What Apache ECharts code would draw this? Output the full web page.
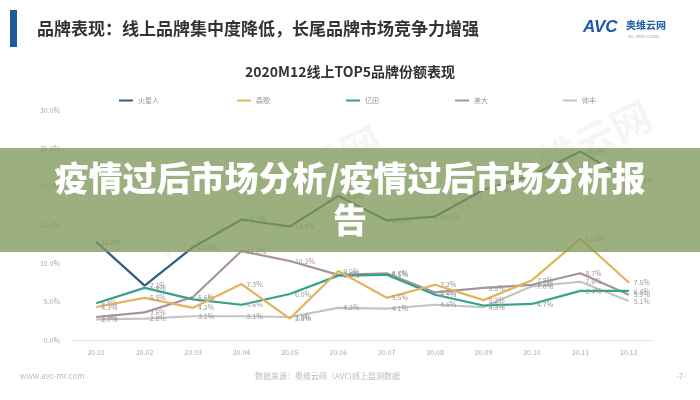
<!DOCTYPE html>
<html><head><meta charset="utf-8">
<script src="https://cdn.jsdelivr.net/npm/echarts@6/dist/echarts.min.js"></script>
<style>html,body{margin:0;padding:0;background:#fff}#c{width:700px;height:400px}</style>
</head><body><div id="c"></div>
<script>
var months = ['20.01','20.02','20.03','20.04','20.05','20.06','20.07','20.08','20.09','20.10','20.11','20.12'];
var seriesNames = ['火星人','森歌','亿田','美大','帅丰'];
var huoxingren = [12.8, 7.1, 12.1, 15.7, 14.8, 18.8, 15.6, 16.1, 19.6, 21.5, 24.6, 20.8];
var senge      = [4.3, 5.5, 4.2, 7.3, 2.8, 9.0, 5.5, 7.2, 5.2, 7.8, 13.2, 7.5];
var yitian     = [4.8, 6.8, 5.3, 4.6, 6.0, 8.4, 8.5, 5.9, 4.5, 4.7, 6.4, 6.4];
var meida      = [3.0, 3.6, 5.6, 11.6, 10.3, 8.5, 8.7, 6.2, 6.8, 7.2, 8.7, 5.9];
var shuaifeng  = [2.7, 2.8, 3.1, 3.1, 3.0, 4.2, 4.1, 4.6, 4.3, 7.0, 7.6, 5.1];
var yTicks = [0, 5, 10, 15, 20, 25, 30];

var colors = ['#2f5d7c','#e2b35c','#35a08c','#a8939b','#c4c4c4'];
var values = [huoxingren, senge, yitian, meida, shuaifeng];
var FONT = '"Noto Sans CJK SC", "Noto Sans", sans-serif';

var chart = echarts.init(document.getElementById('c'));
var legendLefts = [114, 232, 341, 450, 558];
var legends = seriesNames.map(function(n, i){
  return {data:[n], left: legendLefts[i], top: 92, icon:'rect', itemWidth:14, itemHeight:2, itemGap:0,
    textStyle:{fontSize:7, color:'#999', fontFamily:FONT}, selectedMode:false};
});
var series = seriesNames.map(function(n, i){
  return {name:n, type:'line', data: values[i], showSymbol:true, symbol:'circle', symbolSize:0,
    lineStyle:{width:2.2, color: colors[i]}, itemStyle:{color: colors[i]},
    label:{show:true, position:'right', offset:[-2,-3], fontSize:7, color:'#999', fontFamily:FONT,
      formatter:function(p){return p.value.toFixed(1)+'%';}},
    labelLayout:{hideOverlap:false},
    z: 2 + (5-i)};
});

chart.setOption({
  animation:false,
  backgroundColor:'#fff',
  textStyle:{fontFamily:FONT},
  title:{text:'2020M12线上TOP5品牌份额表现', left:'center', top:60,
    textStyle:{fontSize:14, fontWeight:'bold', color:'#333', fontFamily:FONT}},
  legend: legends,
  grid:{left:72, right:47, top:110, bottom:60, containLabel:false},
  xAxis:{type:'category', data: months, boundaryGap:true,
    axisLine:{lineStyle:{color:'#e3e3e3'}}, axisTick:{show:false},
    axisLabel:{fontSize:7, color:'#aaa', margin:9}},
  yAxis:{type:'value', min:yTicks[0], max:yTicks[yTicks.length-1], interval:5,
    axisLine:{show:false}, axisTick:{show:false}, splitLine:{show:false},
    axisLabel:{fontSize:7, color:'#aaa', margin:12, formatter:function(v){return v.toFixed(1)+'%';}}},
  series: series,
  graphic:[
    {type:'rect', left:10, top:10, shape:{width:7, height:37}, style:{fill:'#1f5a9a'}},
    {type:'text', left:37, top:20, style:{text:'品牌表现：线上品牌集中度降低，长尾品牌市场竞争力增强', fontSize:17, fontWeight:'bold', fill:'#333', fontFamily:FONT}},
    {type:'text', left:583, top:19, style:{text:'AVC', fontSize:17, fontWeight:'bold', fontStyle:'italic', fill:'#1f5aa8', fontFamily:'"Liberation Sans", sans-serif'}},
    {type:'text', left:626, top:20, style:{text:'奥维云网', fontSize:10, fontWeight:'bold', fill:'#1f5aa8', fontFamily:FONT}},
    {type:'text', left:628, top:34, style:{text:'ALL VIEW CLOUD', fontSize:4, fill:'#8aa0c0', fontFamily:FONT}},
    {type:'text', left:150, top:120, rotation:0.45, style:{text:'AVC 奥维云网', fontSize:40, fontWeight:'bold', fill:'rgba(0,0,0,0.04)', fontFamily:FONT}, z:-1},
    {type:'text', left:420, top:95, rotation:0.45, style:{text:'AVC 奥维云网', fontSize:40, fontWeight:'bold', fill:'rgba(0,0,0,0.04)', fontFamily:FONT}, z:-1},
    {type:'text', left:20, top:372, style:{text:'www.avc-mr.com', fontSize:8, fill:'#bbb', fontFamily:FONT}},
    {type:'text', left:255, top:372, style:{text:'数据来源：奥维云网（AVC)线上监测数据', fontSize:8, fill:'#bbb', fontFamily:FONT}},
    {type:'text', left:676, top:372, style:{text:'-7-', fontSize:8, fill:'#bbb', fontFamily:FONT}},
    {type:'rect', left:0, top:148, shape:{width:700, height:104}, style:{fill:'rgba(128,152,90,0.78)'}, z:100},
    {type:'text', left:'center', top:157, z:101, style:{text:'疫情过后市场分析/疫情过后市场分析报\n告', fontSize:34, lineHeight:42, fontWeight:900, fill:'#fff', textAlign:'center', fontFamily:FONT}}
  ]
});
</script></body></html>
